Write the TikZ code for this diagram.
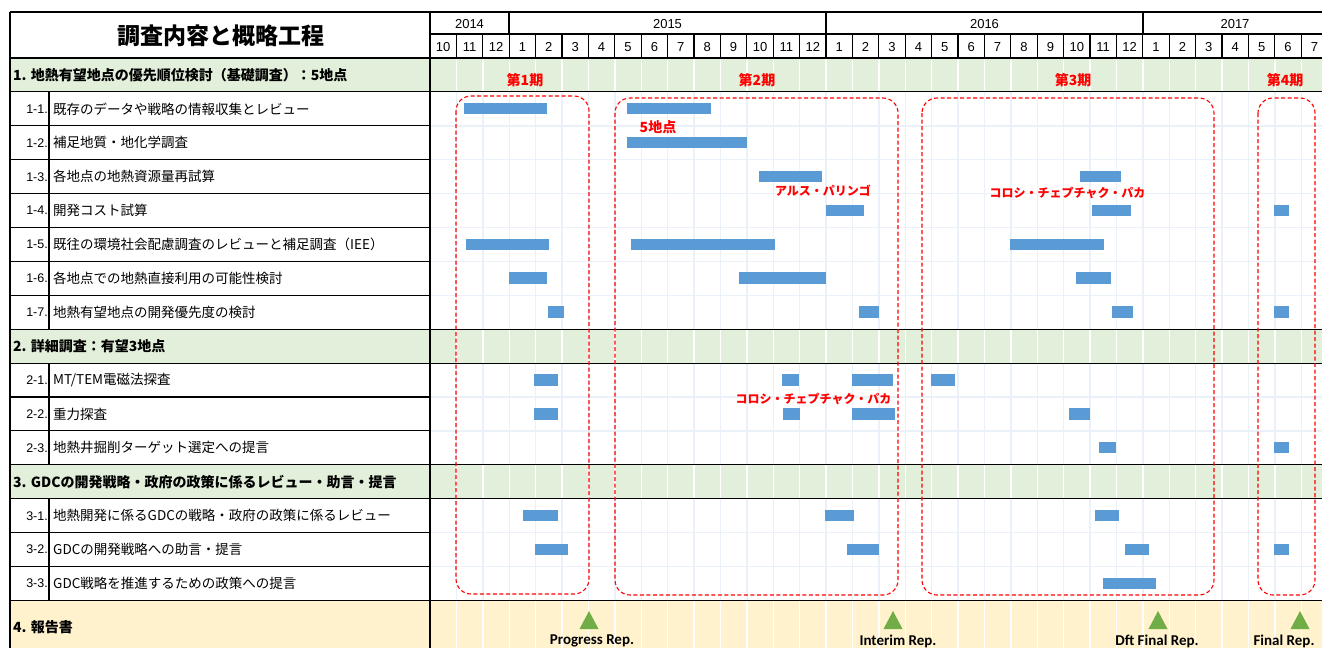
\documentclass[tikz,border=0pt]{standalone}
\usepackage{fontspec}
\setmainfont{Liberation Sans}
\newfontfamily\jpfont{Noto Sans CJK JP}
\newfontfamily\repfont{Carlito}
\usepackage{tikz}
\usetikzlibrary{positioning}
\definecolor{barblue}{HTML}{5B9BD5}
\definecolor{secgreen}{HTML}{E2EFDA}
\definecolor{repyellow}{HTML}{FFF2CC}
\definecolor{gridblue}{HTML}{EBF1F9}
\definecolor{repgreen}{HTML}{70AD47}

\begin{document}
\begin{tikzpicture}[x=1pt, y=-1pt,
    bar/.style={fill=barblue},
    gridline/.style={draw=gridblue, line width=1.4pt},
    rule/.style={draw=black, line width=1.1pt},
    phasebox/.style={draw=red, dash pattern=on 4pt off 2.5pt, line width=1.1pt, rounded corners=15pt},
    num/.style={anchor=east, inner sep=0pt, font=\fontsize{12.5}{15}\selectfont},
    item/.style={anchor=west, inner sep=0pt, font=\jpfont\fontsize{13.5}{16}\selectfont},
    sec/.style={anchor=west, inner sep=0pt, font=\jpfont\bfseries\fontsize{14}{16}\selectfont},
    redlbl/.style={inner sep=0pt, text=red, font=\jpfont\bfseries\fontsize{12}{14}\selectfont},
    phaselbl/.style={redlbl, font=\jpfont\bfseries\fontsize{14}{16}\selectfont},
    replbl/.style={inner sep=0pt, font=\repfont\bfseries\fontsize{15}{17}\selectfont},
    cal/.style={inner sep=0pt, font=\fontsize{13}{15}\selectfont}]

    \useasboundingbox (0,0) rectangle (1322,648);
    \clip (0,0) rectangle (1322,648);

    \fill[secgreen] (10,58) rectangle (1322,91.9);
    \fill[secgreen] (10,329.2) rectangle (1322,363.1);
    \fill[secgreen] (10,464.8) rectangle (1322,498.7);
    \fill[repyellow] (10,600.4) rectangle (1322,648);

    \foreach \m in {1,...,34}
        \draw[gridline] ({430+26.4*\m},58) -- ({430+26.4*\m},648);
    \foreach \a/\b in {58/91.9, 329.2/363.1, 464.8/498.7, 600.4/648}
        \foreach \m in {1,...,34}
            \draw[white, line width=1.4pt] ({430+26.4*\m},\a) -- ({430+26.4*\m},\b);
    \foreach \k in {2,...,7,10,11,14,15}
        \draw[gridline] (430,{58+33.9*\k}) -- (1322,{58+33.9*\k});

    \foreach \xa/\xb/\k in {464/547/1, 627/711/1, 627/747/2, 759/822/3, 1080/1121/3,
            826/864/4, 1092/1131/4, 1274/1289/4, 466/549/5, 631/775/5, 1010/1104/5,
            509/547/6, 739/826/6, 1076/1111/6, 548/564/7, 859/879/7, 1112/1133/7, 1274/1289/7,
            534/558/9, 782/799/9, 852/893/9, 931/955/9, 534/558/10, 783/800/10, 852/895/10, 1069/1090/10,
            1099/1116/11, 1274/1289/11, 523/558/13, 825/854/13, 1095/1119/13,
            535/568/14, 847/879/14, 1125/1149/14, 1274/1289/14, 1103/1156/15}
        \fill[bar] (\xa,{69+33.9*\k}) rectangle (\xb,{80.5+33.9*\k});

    \draw[rule] (10,12) -- (1322,12);
    \draw[rule] (430,34) -- (1322,34);
    \foreach \k in {0,1,8,9,12,13,16}
        \draw[rule] (10,{58+33.9*\k}) -- (1322,{58+33.9*\k});
    \foreach \k in {2,...,7,10,11,14,15}
        \draw[rule] (10,{58+33.9*\k}) -- (430,{58+33.9*\k});
    \draw[rule] (10,12) -- (10,648);
    \draw[rule] (430,12) -- (430,648);
    \draw[rule] (49,91.9) -- (49,329.2);
    \draw[rule] (49,363.1) -- (49,464.8);
    \draw[rule] (49,498.7) -- (49,600.4);
    \foreach \x in {509,826,1143}
        \draw[rule] (\x,12) -- (\x,34);
    \foreach \m in {1,...,34}
        \draw[rule] ({430+26.4*\m},34) -- ({430+26.4*\m},58);

    \node[font=\jpfont\bfseries\fontsize{23}{27}\selectfont, inner sep=0pt] (title) at (221,36) {調査内容と概略工程};
    \node[cal] (y2014) at (469.5,24) {2014};
    \node[cal] (y2015) at (667.5,24) {2015};
    \node[cal] (y2016) at (984.5,24) {2016};
    \node[cal] (y2017) at (1235,24) {2017};
    \foreach \mo [count=\i from 0] in {10,11,12,1,2,3,4,5,6,7,8,9,10,11,12,1,2,3,4,5,6,7,8,9,10,11,12,1,2,3,4,5,6,7}
        \node[cal] (mo\i) at ({430+26.4*(\i+0.5)},47) {\mo};

    \node[sec] (sec1) at (13,75) {1. 地熱有望地点の優先順位検討（基礎調査）：5地点};
    \node[num] (n11) at (48,108.9) {1-1.};
    \node[item] (t11) at (53,108.9) {既存のデータや戦略の情報収集とレビュー};
    \node[num] (n12) at (48,142.8) {1-2.};
    \node[item] (t12) at (53,142.8) {補足地質・地化学調査};
    \node[num] (n13) at (48,176.7) {1-3.};
    \node[item] (t13) at (53,176.7) {各地点の地熱資源量再試算};
    \node[num] (n14) at (48,210.6) {1-4.};
    \node[item] (t14) at (53,210.6) {開発コスト試算};
    \node[num] (n15) at (48,244.5) {1-5.};
    \node[item] (t15) at (53,244.5) {既往の環境社会配慮調査のレビューと補足調査（IEE）};
    \node[num] (n16) at (48,278.4) {1-6.};
    \node[item] (t16) at (53,278.4) {各地点での地熱直接利用の可能性検討};
    \node[num] (n17) at (48,312.3) {1-7.};
    \node[item] (t17) at (53,312.3) {地熱有望地点の開発優先度の検討};

    \node[sec] (sec2) at (13,346.2) {2. 詳細調査：有望3地点};
    \node[num] (n21) at (48,380.1) {2-1.};
    \node[item] (t21) at (53,380.1) {MT/TEM電磁法探査};
    \node[num] (n22) at (48,414) {2-2.};
    \node[item] (t22) at (53,414) {重力探査};
    \node[num] (n23) at (48,447.9) {2-3.};
    \node[item] (t23) at (53,447.9) {地熱井掘削ターゲット選定への提言};

    \node[sec] (sec3) at (13,481.8) {3. GDCの開発戦略・政府の政策に係るレビュー・助言・提言};
    \node[num] (n31) at (48,515.7) {3-1.};
    \node[item] (t31) at (53,515.7) {地熱開発に係るGDCの戦略・政府の政策に係るレビュー};
    \node[num] (n32) at (48,549.6) {3-2.};
    \node[item] (t32) at (53,549.6) {GDCの開発戦略への助言・提言};
    \node[num] (n33) at (48,583.5) {3-3.};
    \node[item] (t33) at (53,583.5) {GDC戦略を推進するための政策への提言};

    \node[sec] (sec4) at (13,627) {4. 報告書};

    \draw[phasebox] (456,96) rectangle (589,594);
    \draw[phasebox] (615,98) rectangle (898,595);
    \draw[phasebox] (922,98) rectangle (1214,595);
    \draw[phasebox] (1258,98) rectangle (1315,595);

    \node[phaselbl] (ph1) at (525,80) {第1期};
    \node[phaselbl] (ph2) at (757,80) {第2期};
    \node[phaselbl] (ph3) at (1073,80) {第3期};
    \node[phaselbl] (ph4) at (1285,80) {第4期};
    \node[phaselbl] (site5) at (658,127) {5地点};
    \node[redlbl] (arus) at (823,191) {アルス・パリンゴ};
    \node[redlbl] (koro1) at (1067.5,193) {コロシ・チェプチャク・パカ};
    \node[redlbl] (koro2) at (813.5,399) {コロシ・チェプチャク・パカ};

    \foreach \x in {589,893,1158,1300}
        \fill[repgreen] (\x-9.5,629) -- (\x+9.5,629) -- (\x,611) -- cycle;
    \node[replbl] (rep1) at (592,641) {Progress Rep.};
    \node[replbl] (rep2) at (898,641) {Interim Rep.};
    \node[replbl] (rep3) at (1157,641) {Dft Final Rep.};
    \node[replbl] (rep4) at (1284,641) {Final Rep.};

\end{tikzpicture}
\end{document}
